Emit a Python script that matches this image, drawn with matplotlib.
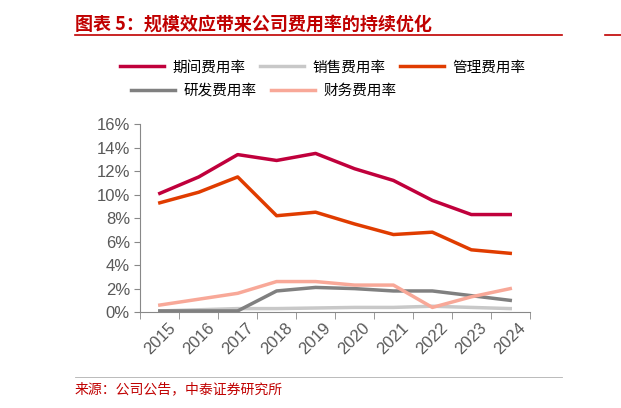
import matplotlib
matplotlib.use("Agg")
import matplotlib.pyplot as plt
import numpy as np

years = ["2015", "2016", "2017", "2018", "2019", "2020", "2021", "2022", "2023", "2024"]
period = [10.1, 11.5, 13.4, 12.9, 13.5, 12.2, 11.2, 9.5, 8.3, 8.3]
sales = [0.1, 0.2, 0.3, 0.3, 0.35, 0.4, 0.4, 0.5, 0.4, 0.3]
admin = [9.3, 10.2, 11.5, 8.2, 8.5, 7.5, 6.6, 6.8, 5.3, 5.0]
rnd = [0.1, 0.1, 0.1, 1.8, 2.1, 2.0, 1.8, 1.8, 1.4, 1.0]
fin = [0.6, 1.1, 1.6, 2.6, 2.6, 2.3, 2.3, 0.4, 1.3, 2.0]

FONT = "Noto Sans CJK SC"
RED = "#c00000"

fig = plt.figure(figsize=(6.21, 4.08), dpi=100)
ax = fig.add_axes([0.226, 0.235, 0.627, 0.461])
x = np.arange(len(years))
series = [("期间费用率", period, "#c0003c"), ("销售费用率", sales, "#c8c8c8"),
          ("管理费用率", admin, "#e03c00"), ("研发费用率", rnd, "#808080"),
          ("财务费用率", fin, "#f8a898")]
lines = []
for name, vals, c in series:
    l, = ax.plot(x, vals, color=c, lw=2.5, label=name)
    lines.append(l)

ax.set_xlim(-0.5, len(years) - 0.5)
ax.set_ylim(0, 16)
ax.set_yticks(range(0, 17, 2))
ax.set_yticklabels([f"{v}%" for v in range(0, 17, 2)], fontsize=12, color="#595959",
                   family="Liberation Sans")
ax.set_xticks(x)
ax.set_xticklabels(years, rotation=45, fontsize=12, color="#595959", family="Liberation Sans")
ax.tick_params(axis="x", length=0, pad=6)
ax.set_xticks(np.arange(-0.5, len(years)), minor=True)
ax.tick_params(axis="x", which="minor", length=5, color="#888888")
ax.tick_params(axis="y", length=4, color="#888888")
for s in ("top", "right"):
    ax.spines[s].set_visible(False)
for s in ("left", "bottom"):
    ax.spines[s].set_color("#888888")

fig.legend(handles=[lines[0], lines[1], lines[2]], loc="center", bbox_to_anchor=(0.52, 0.835),
           ncol=3, frameon=False, prop={"family": FONT, "size": 10.5}, handlelength=3.0,
           handletextpad=0.6, columnspacing=1.0)
fig.legend(handles=[lines[3], lines[4]], loc="center left", bbox_to_anchor=(0.19, 0.777),
           ncol=2, frameon=False, prop={"family": FONT, "size": 10.5}, handlelength=3.0,
           handletextpad=0.6, columnspacing=1.0)

fig.text(0.12, 0.94, "图表 5：规模效应带来公司费用率的持续优化", color=RED, fontsize=13,
         fontweight="bold", style="italic", family=FONT, va="center")
fig.add_artist(plt.Line2D([0.12, 0.905], [0.915, 0.915], color=RED, lw=1.2))
fig.add_artist(plt.Line2D([0.975, 1.0], [0.915, 0.915], color=RED, lw=1.2))
fig.add_artist(plt.Line2D([0.12, 0.905], [0.075, 0.075], color="#b0b0b0", lw=0.6))
fig.text(0.12, 0.045, "来源：公司公告，中泰证券研究所", color=RED, fontsize=10,
         family=FONT, va="center")

fig.savefig("out.png", dpi=100, facecolor="white")
